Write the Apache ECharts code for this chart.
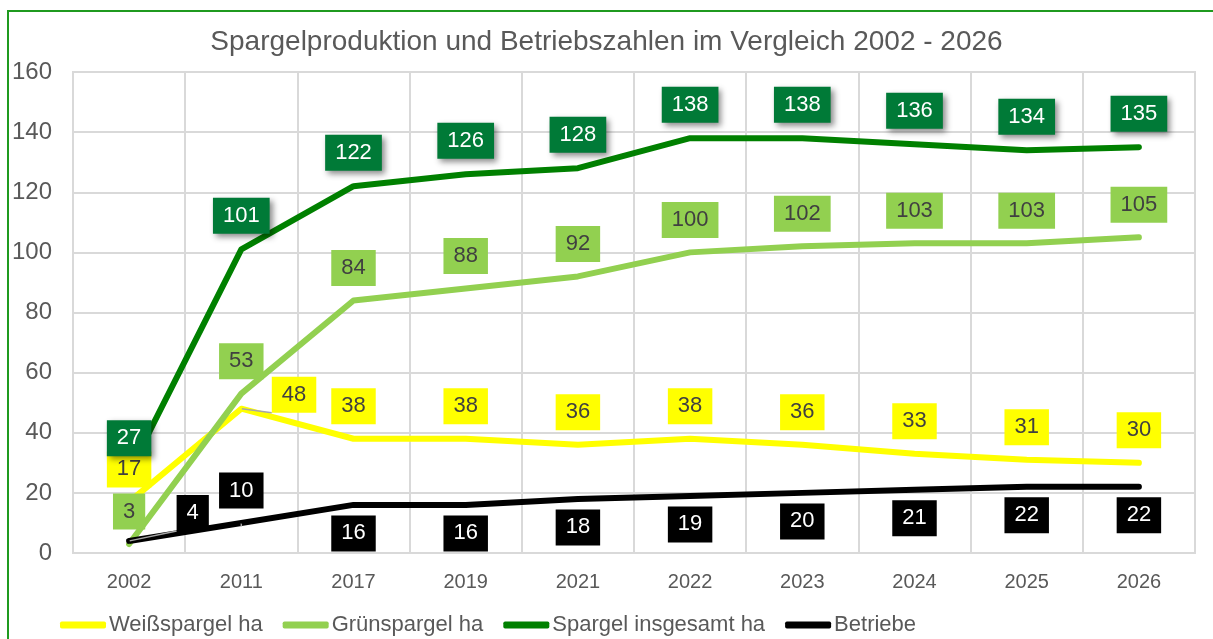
<!DOCTYPE html>
<html>
<head>
<meta charset="utf-8">
<script src="https://cdn.jsdelivr.net/npm/echarts@6/dist/echarts.min.js"></script>
<style>
html, body { margin: 0; padding: 0; background: #fff; }
#draw { width: 1213px; height: 639px; }
</style>
</head>
<body>
<div id="draw"></div>
<script>
// Daten
var jahre = ['2002', '2011', '2017', '2019', '2021', '2022', '2023', '2024', '2025', '2026'];
var weiss = [17, 48, 38, 38, 36, 38, 36, 33, 31, 30];
var gruen = [3, 53, 84, 88, 92, 100, 102, 103, 103, 105];
var gesamt = [27, 101, 122, 126, 128, 138, 138, 136, 134, 135];
var betriebe = [4, 10, 16, 16, 18, 19, 20, 21, 22, 22];

var grau = '#595959';
var gitter = '#D9D9D9';

// einzelne Beschriftungen, die anders liegen
var weissLabels = { 1: { position: 'right', distance: 30, offset: [0, -14] } };
var betriebeLabels = {
	0: { position: 'right', distance: 47, offset: [0, -28] },
	1: { position: 'top', distance: 14 }
};

function punkte(werte, sonder) {
	return werte.map(function(v, i) {
		var d = { value: v };
		if (sonder && sonder[i]) {
			d.label = sonder[i];
			d.labelLine = { show: true, lineStyle: { color: '#A6A6A6', width: 1.5 } };
		}
		return d;
	});
}

function serie(name, farbe, werte, label, sonder) {
	return {
		name : name,
		type : 'line',
		data : punkte(werte, sonder),
		symbol : 'circle',
		symbolSize : 1,
		showSymbol : true,
		itemStyle : { color : farbe },
		lineStyle : { color : farbe, width : 6, cap : 'round', join : 'round' },
		label : label,
		labelLine : { show : false },
		emphasis : { disabled : true },
		animation : false
	};
}

function box(bg, fg, pos, dist, schatten) {
	var l = {
		show : true,
		position : pos,
		distance : dist,
		backgroundColor : bg,
		color : fg,
		fontSize : 22,
		lineHeight : 24,
		padding : [6, 10, 6, 10]
	};
	if (schatten) {
		l.shadowColor = 'rgba(0,0,0,0.45)';
		l.shadowBlur = 6;
		l.shadowOffsetX = 3;
		l.shadowOffsetY = 3;
	}
	return l;
}

var myChart = echarts.init(document.getElementById('draw'));

var option = {
	backgroundColor : '#fff',
	textStyle : { fontFamily : 'Liberation Sans, Arial, sans-serif' },
	title : {
		text : 'Spargelproduktion und Betriebszahlen im Vergleich 2002 - 2026',
		left : 'center',
		top : 28,
		padding : 0,
		textStyle : { fontSize : 28, fontWeight : 'normal', color : grau }
	},
	graphic : [ {
		type : 'rect',
		shape : { x : 8, y : 11, width : 1240, height : 680 },
		style : { fill : 'none', stroke : '#1F9A1F', lineWidth : 2 },
		silent : true
	} ],
	legend : {
		left : 55,
		top : 609,
		icon : 'roundRect',
		itemWidth : 46,
		itemHeight : 7,
		itemGap : 20,
		textStyle : { fontSize : 22, color : grau, padding : [0, 0, 0, -2] },
		data : ['Weißspargel ha', 'Grünspargel ha', 'Spargel insgesamt ha', 'Betriebe']
	},
	grid : {
		left : 73,
		right : 18,
		top : 72,
		bottom : 86,
		show : true,
		borderColor : gitter,
		borderWidth : 2
	},
	xAxis : {
		type : 'category',
		data : jahre,
		boundaryGap : true,
		axisLine : { lineStyle : { color : gitter, width : 2 } },
		axisTick : { show : false },
		splitLine : { show : true, lineStyle : { color : gitter, width : 2 } },
		axisLabel : { fontSize : 20, color : grau, margin : 19 }
	},
	yAxis : {
		type : 'value',
		min : 0,
		max : 160,
		interval : 20,
		axisLine : { show : false },
		axisTick : { show : false },
		splitLine : { lineStyle : { color : gitter, width : 2 } },
		axisLabel : { fontSize : 24, color : grau, margin : 21 }
	},
	series : [
		serie('Weißspargel ha', '#FFFF00', weiss, box('#FFFF00', '#404040', 'top', 14, false), weissLabels),
		serie('Grünspargel ha', '#92D050', gruen, box('#92D050', '#404040', 'top', 14, false)),
		serie('Spargel insgesamt ha', '#008000', gesamt, box('#007A37', '#fff', 'top', 15, true)),
		serie('Betriebe', '#000000', betriebe, box('#000000', '#fff', 'bottom', 10, false), betriebeLabels)
	]
};

myChart.setOption(option);
</script>
</body>
</html>
